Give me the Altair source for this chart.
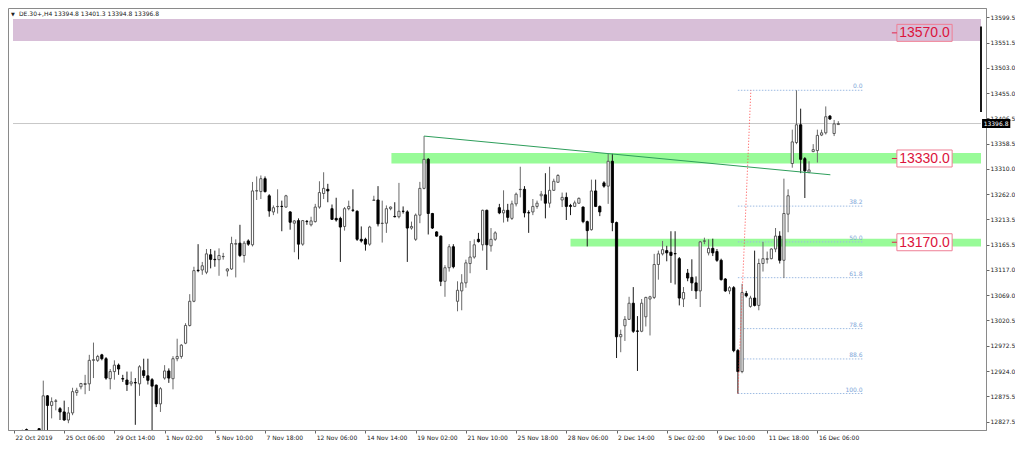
import json
import altair as alt
import pandas as pd

# ---------------- data ----------------
symbol = "DE.30+,H4"

opens = [12795, 12790, 12800, 12812, 12808, 12797, 12813.8, 12803, 12876.6, 12858.2,
         12866, 12852.0, 12845.8, 12830.4, 12843.9, 12882.8, 12893.9, 12898.2, 12899.5, 12944.4,
         12944.4, 12954.9, 12947.5, 12909.3, 12922.9, 12935.2, 12909.5, 12906.8, 12899.5, 12901.9,
         12899.5, 12924.7, 12914.8, 12907.4, 12897.0, 12861.2, 12910.5, 12924.1, 12909.3, 12947.5,
         12951.8, 12977.1, 13011.0, 13057.2, 13116.5, 13117.0, 13112.7, 13146.0, 13137.3, 13136.7,
         13142.5, 13115.1, 13118.9, 13166.3, 13168.2, 13144.7, 13172.5, 13165.1, 13268.0, 13266.8,
         13291.4, 13258.7, 13227.9, 13238.0, 13238.6, 13237.2, 13227.9, 13206.4, 13211.3, 13166.3,
         13209.9, 13203.3, 13209.4, 13237.2, 13263.1, 13271.1, 13234.1, 13215.6, 13215.6, 13200.2,
         13234.1, 13231.5, 13229.2, 13175.6, 13175.6, 13166.3, 13250.0, 13250.7, 13205.8, 13206.4,
         13234.1, 13219.3, 13218.7, 13229.2, 13228.0, 13197.1, 13175.6, 13221.8, 13272.9, 13328.4,
         13224.9, 13189.7, 13181.7, 13095.4, 13121.3, 13161.4, 13057.2, 13077.0, 13092.4, 13129.3,
         13141.7, 13175.6, 13165.1, 13231.0, 13163.2, 13175.6, 13236.0, 13226.1, 13231.0, 13215.6,
         13243.3, 13270.5, 13271.1, 13226.5, 13227.9, 13238.4, 13258.8, 13260.6, 13244.6, 13269.2,
         13284.6, 13250.7, 13255.7, 13240.3, 13238.4, 13244.6, 13237.2, 13209.4, 13194.0, 13268.0,
         13238.4, 13283.4, 13277.2, 13324.7, 13207.6, 12989.4, 13010.4, 13022.7, 13053.5, 13000.5,
         12999.9, 13027.6, 13061.5, 13064.6, 13127.5, 13147.8, 13154.0, 13150.9, 13148.4, 13138.6,
         13061.6, 13110.9, 13102.9, 13092.4, 13077.0, 13172.0, 13149.7, 13158.3, 13152.2, 13135.5,
         13099.8, 13077.0, 13083.2, 12963.0, 12922.9, 13072.0, 13047.4, 13063.4, 13049.3, 13129.4,
         13137.4, 13138.6, 13157.1, 13181.8, 13135.5, 13223.7, 13320.4, 13360.5, 13394.4, 13329.7,
         13303.8, 13343.2, 13345.1, 13374.7, 13379.0, 13411.0, 13377.7, 13394.8]

highs = [12808, 12806, 12812, 12814, 12811, 12809, 12815, 12905.6, 12878, 12873.6,
         12870.5, 12855.1, 12867.4, 12855.1, 12892.0, 12892.0, 12901.3, 12916.7, 12954.9, 12978.3,
         12954.9, 12956.8, 12950.6, 12927.8, 12944.4, 12938.3, 12916.7, 12922.9, 12922.9, 12910.5,
         12935.2, 12947.5, 12947.5, 12910.5, 12898.2, 12893.3, 12935.2, 12929.0, 12952.4, 12985.7,
         12975.3, 13015.3, 13070.8, 13123.2, 13166.3, 13132.4, 13157.1, 13157.1, 13154.0, 13158.3,
         13149.7, 13120.1, 13180.5, 13175.5, 13203.3, 13172.5, 13175.5, 13285.2, 13295.7, 13297.6,
         13295.7, 13261.8, 13240.3, 13271.1, 13249.5, 13260.6, 13229.2, 13212.5, 13215.6, 13212.5,
         13212.5, 13218.7, 13243.3, 13286.5, 13303.7, 13281.6, 13242.1, 13255.0, 13218.7, 13237.2,
         13249.5, 13271.1, 13231.0, 13200.2, 13178.6, 13201.4, 13258.8, 13277.2, 13249.5, 13240.3,
         13238.4, 13246.4, 13283.4, 13238.4, 13231.0, 13209.4, 13224.9, 13285.3, 13372.8, 13330.9,
         13226.1, 13191.0, 13183.0, 13126.2, 13166.3, 13166.3, 13095.4, 13109.0, 13136.7, 13172.5,
         13175.6, 13187.9, 13232.3, 13232.3, 13197.1, 13191.0, 13243.3, 13269.2, 13243.3, 13249.5,
         13264.9, 13314.2, 13277.2, 13231.0, 13252.6, 13249.5, 13268.0, 13301.9, 13314.2, 13291.4,
         13300.0, 13264.9, 13264.9, 13243.3, 13249.5, 13255.7, 13238.4, 13211.3, 13289.6, 13289.6,
         13240.3, 13286.5, 13338.9, 13338.9, 13209.4, 13003.0, 13028.9, 13065.8, 13084.3, 13028.9,
         13061.5, 13065.8, 13067.7, 13147.8, 13154.0, 13172.5, 13163.2, 13191.0, 13191.0, 13141.7,
         13084.4, 13118.9, 13137.4, 13104.7, 13172.5, 13178.7, 13175.6, 13176.8, 13157.1, 13138.6,
         13101.6, 13086.2, 13086.2, 12966.1, 13090.5, 13077.0, 13067.7, 13154.0, 13138.6, 13170.7,
         13152.2, 13158.3, 13197.2, 13191.0, 13291.5, 13271.1, 13385.1, 13460.3, 13425.2, 13332.8,
         13324.7, 13357.4, 13385.1, 13385.1, 13429.5, 13412.9, 13403.6, 13401.3]

lows = [12778, 12782, 12792, 12808, 12790, 12788, 12800, 12790, 12805.8, 12833.5,
        12848.9, 12830.4, 12829.0, 12824.3, 12839.6, 12876.6, 12889.0, 12879.7, 12885.9, 12910.5,
        12941.3, 12944.4, 12907.4, 12889.0, 12907.4, 12916.7, 12903.1, 12885.9, 12895.1, 12821.2,
        12876.6, 12910.5, 12898.2, 12805.8, 12855.1, 12845.8, 12907.4, 12901.3, 12889.0, 12942.6,
        12947.5, 12975.3, 13009.1, 13055.4, 13112.7, 13107.8, 13109.0, 13120.1, 13123.2, 13105.9,
        13136.7, 13104.7, 13117.0, 13102.8, 13141.7, 13131.2, 13163.2, 13162.0, 13250.7, 13252.6,
        13264.9, 13218.7, 13221.8, 13224.8, 13191.0, 13235.9, 13194.0, 13150.9, 13137.3, 13163.2,
        13203.3, 13200.2, 13207.6, 13234.1, 13252.6, 13246.4, 13212.5, 13209.4, 13132.4, 13192.2,
        13231.0, 13227.9, 13172.5, 13169.4, 13154.0, 13163.2, 13249.5, 13200.2, 13169.4, 13187.9,
        13231.0, 13217.5, 13215.6, 13224.8, 13132.4, 13194.0, 13172.5, 13206.4, 13271.1, 13184.8,
        13195.3, 13180.5, 13086.2, 13065.8, 13113.9, 13120.1, 13038.1, 13040.0, 13083.1, 13110.8,
        13138.6, 13169.4, 13154.0, 13117.0, 13152.1, 13172.5, 13223.6, 13207.6, 13209.4, 13212.5,
        13238.4, 13255.7, 13217.5, 13187.9, 13221.8, 13234.1, 13249.5, 13215.6, 13236.0, 13268.0,
        13283.4, 13237.2, 13212.5, 13221.8, 13237.2, 13243.3, 13206.4, 13162.0, 13192.2, 13237.2,
        13219.9, 13274.2, 13243.3, 13191.0, 12948.8, 12959.9, 12981.4, 13021.5, 12996.8, 12924.1,
        12998.1, 13009.1, 12991.9, 13061.5, 13098.5, 13144.7, 13133.6, 13092.4, 13089.3, 13049.3,
        13046.2, 13095.5, 13077.0, 13061.6, 13046.2, 13166.4, 13144.8, 13143.6, 13132.5, 13096.7,
        13075.1, 13070.8, 12959.9, 12881.0, 12919.8, 13064.7, 13044.9, 13047.4, 13040.0, 13114.0,
        13129.4, 13137.4, 13151.0, 13129.4, 13101.6, 13189.1, 13312.4, 13357.4, 13302.0, 13254.5,
        13302.0, 13342.0, 13322.3, 13372.8, 13375.9, 13403.6, 13372.8, 13394.8]

closes = [12790, 12800, 12806, 12811, 12797, 12805, 12810.7, 12876.6, 12858.2, 12865.5,
          12867, 12845.8, 12830.4, 12843.9, 12884.6, 12887.1, 12900.1, 12900.1, 12944.4, 12945.6,
          12951.8, 12947.5, 12910.5, 12922.9, 12935.2, 12927.8, 12908.7, 12898.2, 12903.1, 12901.3,
          12932.1, 12915.5, 12906.2, 12895.1, 12861.2, 12890.2, 12924.1, 12910.5, 12947.5, 12951.8,
          12973.4, 13011.0, 13057.2, 13115.8, 13115.8, 13125.0, 13147.8, 13137.3, 13136.7, 13144.7,
          13142.9, 13118.9, 13167.5, 13167.5, 13144.7, 13168.2, 13166.3, 13268.0, 13268.5, 13291.4,
          13266.8, 13229.8, 13235.9, 13238.4, 13238.2, 13258.7, 13208.2, 13210.7, 13166.3, 13211.3,
          13209.4, 13210.7, 13237.2, 13264.9, 13272.9, 13268.0, 13213.8, 13212.5, 13199.0, 13234.1,
          13238.4, 13231.0, 13175.6, 13172.5, 13166.3, 13199.0, 13250.7, 13205.1, 13206.4, 13234.1,
          13237.2, 13218.7, 13229.2, 13229.0, 13197.1, 13200.2, 13221.8, 13272.9, 13328.4, 13224.9,
          13197.1, 13181.7, 13095.4, 13121.3, 13161.4, 13123.2, 13078.2, 13092.4, 13130.6, 13141.7,
          13165.1, 13171.2, 13231.0, 13165.1, 13175.6, 13187.9, 13226.1, 13231.0, 13217.5, 13243.3,
          13261.8, 13271.1, 13226.1, 13226.1, 13238.4, 13244.6, 13261.8, 13244.6, 13269.2, 13286.5,
          13297.6, 13255.7, 13238.4, 13238.4, 13245.2, 13253.8, 13209.4, 13192.2, 13268.0, 13238.4,
          13227.9, 13277.2, 13324.7, 13207.6, 12989.4, 12993.7, 13022.7, 13053.5, 12999.9, 12999.9,
          13053.5, 13064.6, 13065.8, 13127.5, 13147.8, 13155.8, 13149.7, 13144.8, 13147.9, 13063.4,
          13073.9, 13101.6, 13092.4, 13077.0, 13170.7, 13172.5, 13158.3, 13149.7, 13135.5, 13098.6,
          13077.0, 13083.2, 12963.0, 12922.9, 13073.9, 13067.7, 13063.4, 13049.3, 13129.4, 13138.6,
          13138.6, 13157.1, 13181.8, 13135.5, 13224.9, 13258.8, 13361.7, 13394.4, 13328.4, 13306.3,
          13308.1, 13346.9, 13374.1, 13379.0, 13409.8, 13405.5, 13396.2, 13396.8]

time_labels = ["22 Oct 2019", "25 Oct 06:00", "29 Oct 14:00", "1 Nov 02:00", "5 Nov 10:00",
               "7 Nov 18:00", "12 Nov 06:00", "14 Nov 14:00", "19 Nov 02:00", "21 Nov 10:00",
               "25 Nov 18:00", "28 Nov 06:00", "2 Dec 14:00", "5 Dec 02:00", "9 Dec 10:00",
               "11 Dec 18:00", "16 Dec 06:00"]
bars_per_label = 12

price_ticks = [13599.5, 13551.5, 13503.0, 13455.0, 13406.5, 13358.5, 13310.0, 13262.0, 13213.5,
               13165.5, 13117.0, 13069.0, 13020.5, 12972.5, 12924.0, 12875.5, 12827.5]

level_values = [13570.0, 13330.0, 13170.0]
zone_low = [13554.6, 13320.3, 13162.1]
zone_high = [13596.6, 13340.7, 13176.8]
zone_start_bar = [-0.234, 90.2, 133.0]
zone_colors = ["#d8bfd8", "#98fb98", "#98fb98"]

trend_start_bar, trend_end_bar = 98, 195.1
trend_end_price = 13298.9

fib_levels = [0.0, 38.2, 50.0, 61.8, 78.6, 88.6, 100.0]
fib_low_bar, fib_high_bar = 173, 187
fib_right_bar = 202.8
fib_diag_end_bar = 176.1

axis_bar_top, axis_bar_bottom = 13582.0, 13419.0

# ---------------- layout ----------------
W, H = 978, 422
XMIN, XMAX = -0.234, 231.1
YMIN, YMAX = 12811.3, 13617.5
px_per_pt = H / (YMAX - YMIN)
FONT = "DejaVu Sans"

xs = alt.Scale(domain=[XMIN, XMAX], nice=False, zero=False)
ys = alt.Scale(domain=[YMIN, YMAX], nice=False, zero=False)

n = len(opens)
df = pd.DataFrame({"i": list(range(n)), "o": opens, "h": highs, "l": lows, "c": closes})
df["dir"] = ["up" if c >= o else "down" for o, c in zip(opens, closes)]

label_expr = json.dumps(time_labels) + "[round(datum.value/%d)]" % bars_per_label
x_axis = alt.Axis(values=list(range(0, bars_per_label * len(time_labels), bars_per_label)),
                  labelExpr=label_expr, orient="bottom", labelAlign="left", labelBaseline="top",
                  labelFlush=False, labelOverlap=False, labelFont=FONT, labelFontSize=6,
                  labelColor="#222222", tickSize=3, tickColor="#666666", domainColor="#8a8a8a",
                  labelPadding=1, labelOffset=1, grid=False, title=None)
y_axis = alt.Axis(orient="right", values=price_ticks, format=".1f", labelFont=FONT, labelFontSize=6,
                  labelColor="#222222", tickSize=3, tickColor="#666666", domainColor="#8a8a8a",
                  labelPadding=1, grid=False, title=None, labelFlush=False, labelOverlap=False)


def X(f):
    return alt.X(f, scale=xs, axis=x_axis)


def Y(f):
    return alt.Y(f, scale=ys, axis=y_axis)


# zones
zdf = pd.DataFrame({"lo": zone_low, "hi": zone_high, "x0": zone_start_bar,
                    "x1": [XMAX] * 3, "col": zone_colors})
zones = alt.Chart(zdf).mark_rect().encode(
    x=X("x0:Q"), x2="x1:Q", y=Y("lo:Q"), y2="hi:Q", color=alt.Color("col:N", scale=None))

# bid line
bid = alt.Chart(pd.DataFrame({"p": [closes[-1]], "x0": [XMIN], "x1": [XMAX]})).mark_rule(
    color="#c8c8c8", strokeWidth=1).encode(x=X("x0:Q"), x2="x1:Q", y=Y("p:Q"))

# fibonacci
fib_hi = max(highs[fib_low_bar:fib_high_bar + 1])
fib_lo = min(lows[fib_low_bar:fib_high_bar + 1])
fdf = pd.DataFrame({"lvl": fib_levels})
fdf["p"] = fib_hi - fdf["lvl"] / 100.0 * (fib_hi - fib_lo)
fdf["t"] = ["%.1f" % v for v in fib_levels]
fdf["x0"] = fib_low_bar
fdf["x1"] = fib_right_bar
fib_lines = alt.Chart(fdf).mark_rule(color="#9dbbe2", strokeWidth=1, strokeDash=[1.5, 1.5]).encode(
    x=X("x0:Q"), x2="x1:Q", y=Y("p:Q"))
fib_text = alt.Chart(fdf).mark_text(align="right", baseline="bottom", dy=-1, font=FONT,
                                    fontSize=6, color="#7ea5d8").encode(
    x=X("x1:Q"), y=Y("p:Q"), text="t:N")
fib_diag = alt.Chart(pd.DataFrame({"x0": [fib_low_bar], "x1": [fib_diag_end_bar],
                                   "y0": [fib_lo], "y1": [fib_hi]})).mark_rule(
    color="#ff4a4a", strokeWidth=1, strokeDash=[1, 2]).encode(
    x=X("x0:Q"), x2="x1:Q", y=Y("y0:Q"), y2="y1:Q")

# candles
wicks = alt.Chart(df).mark_rule(strokeWidth=1, clip=True).encode(
    x=X("i:Q"), y=Y("l:Q"), y2="h:Q",
    color=alt.Color("dir:N", scale=alt.Scale(domain=["up", "down"], range=["#6a6a6a", "#1a1a1a"]),
                    legend=None))
bodies = alt.Chart(df).mark_bar(size=2.2, strokeWidth=0.9, clip=True).encode(
    x=X("i:Q"), y=Y("o:Q"), y2="c:Q",
    fill=alt.Fill("dir:N", scale=alt.Scale(domain=["up", "down"], range=["#ffffff", "#000000"]),
                  legend=None),
    stroke=alt.Stroke("dir:N", scale=alt.Scale(domain=["up", "down"], range=["#4a4a4a", "#000000"]),
                      legend=None))

# trend line
trend = alt.Chart(pd.DataFrame({"x0": [trend_start_bar], "x1": [trend_end_bar],
                                "y0": [highs[trend_start_bar]], "y1": [trend_end_price]})).mark_rule(
    color="#2e9e5b", strokeWidth=1).encode(x=X("x0:Q"), x2="x1:Q", y=Y("y0:Q"), y2="y1:Q")

# level labels with boxes
box_half = 8.5 / px_per_pt
ldf = pd.DataFrame({"p": level_values, "t": ["%.1f" % v for v in level_values]})
ldf["b0"] = ldf["p"] - box_half
ldf["b1"] = ldf["p"] + box_half
ldf["x0"] = 211.0
ldf["x1"] = 224.2
ldf["xm"] = 217.6
ldf["d0"] = 209.8
ldf["fill"] = ["transparent", "#ffffff", "#ffffff"]
boxes = alt.Chart(ldf).mark_rect(stroke="#ef7f95", strokeWidth=1).encode(
    x=X("x0:Q"), x2="x1:Q", y=Y("b0:Q"), y2="b1:Q", fill=alt.Fill("fill:N", scale=None))
dashes = alt.Chart(ldf).mark_rule(color="#e0244c", strokeWidth=1).encode(
    x=X("d0:Q"), x2="x0:Q", y=Y("p:Q"))
ltext = alt.Chart(ldf).mark_text(font="Liberation Sans", fontSize=14, color="#dc143c",
                                 align="center", baseline="middle", dy=0.5).encode(
    x=X("xm:Q"), y=Y("p:Q"), text="t:N")

# black bar on the price axis
abar = alt.Chart(pd.DataFrame({"x": [XMAX], "y0": [axis_bar_bottom], "y1": [axis_bar_top]})).mark_rule(
    color="#1a1a1a", strokeWidth=2).encode(x=X("x:Q"), y=Y("y0:Q"), y2="y1:Q")

# current price tag
tag_half = 4.5 / px_per_pt
tdf = pd.DataFrame({"p": [closes[-1]], "t": ["%.1f" % closes[-1]],
                    "x0": [XMAX + 0.25], "x1": [XMAX + 7.0], "xm": [XMAX + 3.6]})
tdf["b0"] = tdf["p"] - tag_half
tdf["b1"] = tdf["p"] + tag_half
tag_box = alt.Chart(tdf).mark_rect(color="#000000").encode(
    x=X("x0:Q"), x2="x1:Q", y=Y("b0:Q"), y2="b1:Q")
tag_text = alt.Chart(tdf).mark_text(font=FONT, fontSize=6, color="#ffffff", align="center",
                                    baseline="middle").encode(x=X("xm:Q"), y=Y("p:Q"), text="t:N")

# header
header_str = "%s  %.1f %.1f %.1f %.1f" % (symbol, opens[-1], highs[-1], lows[-1], closes[-1])
hdf = pd.DataFrame({"t": [header_str]})
header = alt.Chart(hdf).mark_text(font=FONT, fontSize=6, color="#222222", align="left",
                                  baseline="middle").encode(
    x=alt.value(11), y=alt.value(6), text="t:N")
tri = alt.Chart(hdf).mark_text(font=FONT, fontSize=5, color="#222222", align="left",
                               baseline="middle").encode(
    x=alt.value(3), y=alt.value(6), text=alt.value("\u25bc"))

chart = alt.layer(
    zones, bid, fib_lines, wicks, bodies, trend, fib_diag, fib_text,
    boxes, dashes, ltext, abar, tag_box, tag_text, header, tri
).properties(
    width=W, height=H, padding={"left": 0, "top": 0, "right": 0, "bottom": 0},
    background="#ffffff"
).configure_view(stroke="#8a8a8a", strokeWidth=1)

chart.save("out.html", embed_options={"renderer": "svg", "actions": False})
